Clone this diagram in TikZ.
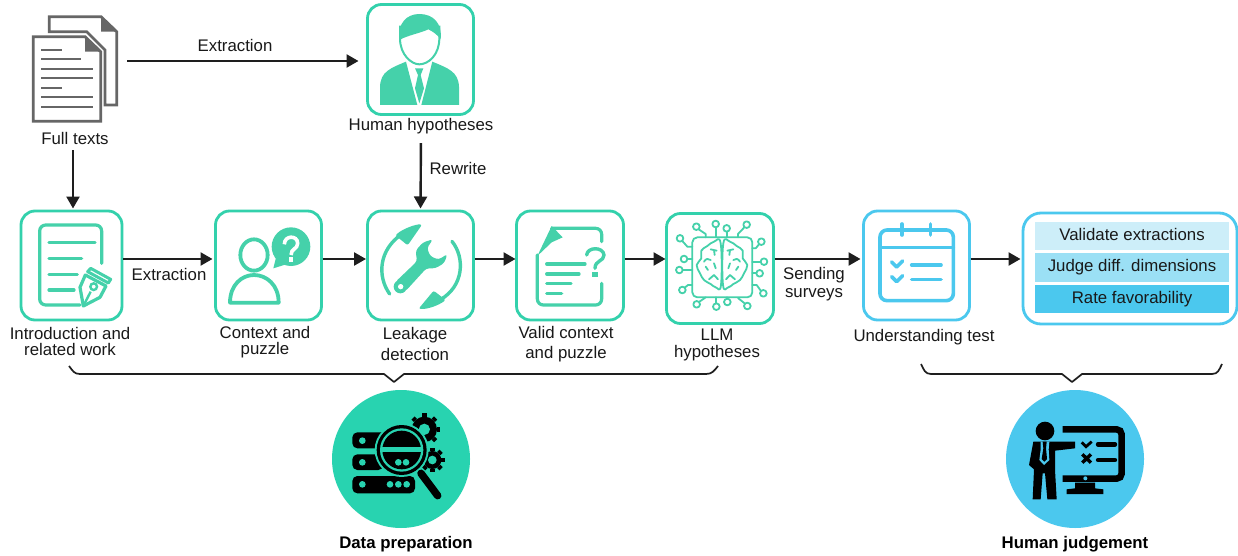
\documentclass[tikz,border=0pt]{standalone}
\usepackage{fontspec}
\setmainfont{Liberation Sans}
\usetikzlibrary{arrows.meta,calc}
\definecolor{teal1}{HTML}{33D1AC}
\definecolor{teal2}{HTML}{45D1AA}
\definecolor{tealc}{HTML}{28D3B0}
\definecolor{blue1}{HTML}{4BC8EE}
\definecolor{bar1}{HTML}{CDEEF9}
\definecolor{bar2}{HTML}{9BE0F5}
\definecolor{dark}{HTML}{1E1E1E}
\definecolor{docgray}{HTML}{666666}
\tikzset{
  z/.style 2 args={shift={(#1,#2)},x=0.33333pt,y=-0.33333pt},
  tealbox/.style={draw=teal1,line width=2.8pt,rounded corners=14pt,inner sep=0pt,outer sep=0pt,fill=white},
  bluebox/.style={draw=blue1,line width=2.8pt,rounded corners=14pt,inner sep=0pt,outer sep=0pt,fill=white},
  lab/.style={font=\fontsize{16.8}{16.5}\selectfont,align=center,inner sep=0pt,text=black!90},
  bar/.style={minimum width=194pt,minimum height=28pt,inner sep=0pt,text height=12pt,text depth=3.5pt,font=\fontsize{16.8}{16.5}\selectfont,text=black!90},
  head/.style={font=\fontsize{16.8}{16.5}\selectfont\bfseries,inner sep=0pt,text=black},
  arr/.style={-{Triangle[length=12pt,width=13pt]},line width=2.4pt,draw=dark},
  brace/.style={line width=1.7pt,draw=dark,line join=round},
  ti/.style={draw=teal2,line width=3.2pt,line cap=round,line join=round},
  thin/.style={draw=teal2,line width=1.8pt,line cap=round,line join=round},
  bi/.style={draw=blue1,line width=3.6pt,line cap=round,line join=round},
  gline/.style={draw=docgray,line width=2pt},
}
\begin{document}
\begin{tikzpicture}[x=1pt,y=-1pt]
\path[use as bounding box,fill=white] (0,0) rectangle (1238,556);
\coordinate (rowy) at (0,259);
\coordinate (topy) at (0,61);
\coordinate (colA) at (73,0);
% boxes
\node[tealbox,minimum width=101pt,minimum height=109pt] (intro) at (71.5,265.5) {};
\node[tealbox,minimum width=106pt,minimum height=109pt] (context) at (268.5,265.5) {};
\node[tealbox,minimum width=106pt,minimum height=109pt] (leak) at (420.5,265.5) {};
\node[tealbox,minimum width=107pt,minimum height=109pt] (valid) at (570,265.5) {};
\node[tealbox,minimum width=107pt,minimum height=110pt] (llm) at (720,268.5) {};
\node[bluebox,minimum width=106pt,minimum height=109pt] (under) at (916.5,265.5) {};
\node[bluebox,minimum width=214pt,minimum height=111pt,rounded corners=18pt] (panel) at (1130,268.5) {};
\node[tealbox,minimum width=106pt,minimum height=110pt] (human) at (420.5,59.5) {};
\node[minimum width=84pt,minimum height=106pt,inner sep=0pt] (docs) at (75,69) {};
% panel bars
\node[bar,fill=bar1] (b1) at (1132,236) {Validate extractions};
\node[bar,fill=bar2,minimum height=29pt] (b2) at (1132,267.5) {Judge diff. dimensions};
\node[bar,fill=blue1] (b3) at (1132,299) {Rate favorability};
% labels
\node[lab] (fulltexts) at (75,138) {Full texts};
\node[lab] (humanlab) at (421,126) {Human hypotheses};
\node[lab] (introlab) at (70,341.5) {Introduction and\\related work};
\node[lab] (contextlab) at (265,342) {Context and\\puzzle};
\node[lab] (leaklab) at (415,344) {Leakage\\[4pt]detection};
\node[lab] (validlab) at (566,344) {Valid context\\[4pt]and puzzle};
\node[lab] (llmlab) at (717,345) {LLM\\hypotheses};
\node[lab] (underlab) at (924,337) {Understanding test};
\node[lab] (ex1) at (235,45) {Extraction};
\node[lab] (ex2) at (169,274) {Extraction};
\node[lab] (rw) at (458,168) {Rewrite};
\node[lab] (send) at (814,284) {Sending\\[1.5pt]surveys};
\node[head] (dp) at (406,544) {Data preparation};
\node[head] (hj) at (1075,544) {Human judgement};
% connectors
\draw[arr,shorten <=10pt,shorten >=9pt] (docs.east |- topy) -- (human.west |- topy);
\draw[arr,shorten <=6pt,shorten >=2.5pt] (fulltexts.south -| colA) -- (intro.north -| colA);
\draw[arr,shorten <=9pt,shorten >=2.5pt] (humanlab.south) -- (leak.north);
\draw[arr,shorten <=1pt,shorten >=3pt] (intro.east |- rowy) -- (context.west |- rowy);
\draw[arr,shorten <=1pt,shorten >=1.5pt] (context.east |- rowy) -- (leak.west |- rowy);
\draw[arr,shorten <=1pt,shorten >=1pt] (leak.east |- rowy) -- (valid.west |- rowy);
\draw[arr,shorten <=1pt,shorten >=1pt] (valid.east |- rowy) -- (llm.west |- rowy);
\draw[arr,shorten <=1pt,shorten >=3pt] (llm.east |- rowy) -- (under.west |- rowy);
\draw[arr,shorten <=1pt,shorten >=2.5pt] (under.east |- rowy) -- (panel.west |- rowy);
% braces
\draw[brace] (69,366) .. controls (73,371) and (74,374) .. (80,374) -- (384,374) -- (394,382) -- (404,374) -- (706,374) .. controls (712,374) and (714,371) .. (718,366);
\draw[brace] (921,364) .. controls (924,370) and (925,374) .. (931,374) -- (1062,374) -- (1072,382) -- (1082,374) -- (1212,374) .. controls (1218,374) and (1219,370) .. (1222,364);
% circles
\fill[tealc] (401,459) circle (69);
\fill[blue1] (1075,459) circle (69);

% ---- documents icon
\begin{scope}[z={0}{0}]
\draw[draw=docgray,line width=2.8pt,line join=miter] (148,95) -- (148,50) -- (303,50) -- (350,95) -- (350,315) -- (315,315) -- (315,150) -- (260,95) -- cycle;
\fill[docgray] (303,50) -- (350,95) -- (303,95) -- cycle;
\draw[draw=docgray,line width=2.8pt,fill=white] (100,110) -- (255,110) -- (302,155) -- (302,364) -- (100,364) -- cycle;
\fill[docgray] (255,110) -- (300,155) -- (255,155) -- cycle;
\foreach \yy/\xx in {150/185,178/243,206/278,234/278,263/185,291/278,320/278}
  \draw[gline] (123,\yy) -- (\xx,\yy);
\end{scope}

% ---- human icon
\begin{scope}[z={0}{0}]
\fill[teal2] (1140,315) -- (1140,260) .. controls (1142,215) and (1170,205) .. (1218,185) -- (1252,315) -- cycle;
\fill[teal2] (1377,315) -- (1377,260) .. controls (1375,215) and (1345,205) .. (1297,185) -- (1264,315) -- cycle;
\fill[teal2] (1245,205) -- (1270,205) -- (1262,225) -- (1272,265) -- (1258,310) -- (1245,265) -- (1254,225) -- cycle;
\draw[draw=teal2,line width=2pt,fill=white] (1200,115) .. controls (1200,165) and (1235,193) .. (1258,193) .. controls (1285,193) and (1318,165) .. (1318,115) -- (1318,80) -- (1200,80) -- cycle;
\fill[teal2] (1198,120) .. controls (1192,70) and (1220,42) .. (1258,42) .. controls (1300,42) and (1327,70) .. (1322,117) .. controls (1312,105) and (1300,95) .. (1285,88) .. controls (1260,100) and (1225,105) .. (1198,120) -- cycle;
\end{scope}

% ---- intro icon
\begin{scope}[z={0}{200}]
\draw[ti,rounded corners=6pt] (240,315) -- (119,315) -- (119,75) -- (305,75) -- (305,190);
\foreach \yy/\xx in {128/285,176/245,224/232,270/222}
  \draw[ti] (147,\yy) -- (\xx,\yy);
\draw[draw=teal2,line width=3pt,line join=round] (272,205) -- (332,238) -- (325,249) -- (263,215) -- cycle;
\draw[draw=teal2,line width=3.2pt,fill=white,line join=round] (256,225) -- (318,258) -- (300,292) -- (250,318) -- (240,262) -- cycle;
\draw[draw=teal2,line width=2.4pt] (250,318) -- (272,275);
\draw[draw=teal2,line width=2.4pt,fill=white] (281,260) circle (10);
\end{scope}

% ---- context icon
\begin{scope}[z={0}{200}]
\draw[ti,line width=3.8pt] (762,165) ellipse (41 and 47);
\draw[ti,line width=3.8pt,line cap=butt,miter limit=5] (690,308) .. controls (690,255) and (725,225) .. (762,225) .. controls (800,225) and (836,255) .. (836,308) -- cycle;
\fill[teal2] (873,140) circle (58);
\fill[teal2] (830,165) -- (820,205) -- (868,190) -- cycle;
\draw[draw=white,line width=3.6pt] (853,133) .. controls (853,105) and (893,105) .. (893,130) .. controls (893,148) and (873,145) .. (873,165);
\fill[white] (866,172) rectangle (880,186);
\end{scope}

% ---- leakage icon
\begin{scope}[z={367}{208}]
\draw[ti,line width=3.4pt] (68,258) .. controls (30,205) and (35,125) .. (105,78);
\fill[teal2,rounded corners=2pt] (165,50) .. controls (150,48) and (110,60) .. (85,82) -- (122,112) -- cycle;
\draw[ti,line width=3.4pt] (255,100) .. controls (295,150) and (290,235) .. (220,275);
\fill[teal2,rounded corners=2pt] (155,302) .. controls (180,305) and (215,292) .. (236,276) -- (200,248) -- cycle;
\fill[teal2,rounded corners=3pt] (85,222) -- (150,160) -- (146,128) -- (168,103) -- (198,94) -- (180,120) -- (190,145) -- (215,155) -- (241,138) -- (232,165) -- (205,181) -- (178,181) -- (115,250) -- cycle;
\fill[teal2] (100,236) circle (20);
\fill[white] (101,236) circle (8);
\end{scope}

% ---- valid icon
\begin{scope}[z={480}{200}]
\fill[teal2] (215,78) -- (248,112) -- (215,127) -- (172,168) -- cycle;
\draw[ti,rounded corners=6pt] (215,85) -- (365,85) -- (365,125);
\draw[ti,rounded corners=6pt] (172,165) -- (172,315) -- (365,315) -- (365,250);
\foreach \yy/\xx in {192/315,222/297,251/273,281/245}
  \draw[ti] (200,\yy) -- (\xx,\yy);
\draw[ti,line width=3.4pt] (320,165) .. controls (322,140) and (370,140) .. (372,165) .. controls (372,185) and (345,180) .. (345,205);
\fill[teal2] (337,217) rectangle (354,232);
\end{scope}

% ---- LLM icon
\begin{scope}[z={664}{210}]
\draw[thin,rounded corners=5pt] (85,82) rectangle (265,262);
\foreach \a/\b in {97/50,155/42,188/55,248/44,48/85,60/147,46/180,55/240,292/95,300/155,287/190,298/250,98/283,157/290,190/276,250/288}
  \draw[thin] (\a,\b) circle (10);
\draw[thin] (104,58) -- (125,72) -- (125,82);
\draw[thin] (155,52) -- (155,82);
\draw[thin] (188,65) -- (188,82);
\draw[thin] (241,52) -- (222,72) -- (222,82);
\draw[thin] (55,93) -- (70,110) -- (85,110);
\draw[thin] (70,147) -- (85,147);
\draw[thin] (56,180) -- (85,180);
\draw[thin] (62,233) -- (72,225) -- (85,225);
\draw[thin] (285,103) -- (275,115) -- (265,115);
\draw[thin] (290,155) -- (265,155);
\draw[thin] (277,190) -- (265,190);
\draw[thin] (291,243) -- (278,225) -- (265,225);
\draw[thin] (105,276) -- (125,262);
\draw[thin] (157,280) -- (157,262);
\draw[thin] (190,266) -- (190,262);
\draw[thin] (243,281) -- (222,264);
% brain
\draw[thin] plot[smooth cycle,tension=0.7] coordinates {(170,100) (150,95) (130,108) (112,122) (112,145) (98,165) (108,190) (120,210) (140,222) (155,232) (171,225)};
\draw[thin] plot[smooth cycle,tension=0.7] coordinates {(178,100) (198,95) (218,108) (236,122) (236,145) (250,165) (240,190) (228,210) (208,222) (193,232) (177,225)};
\draw[thin] (140,118) -- (158,122) (150,120) -- (152,135);
\draw[thin] (208,118) -- (190,122) (198,120) -- (196,135);
\draw[thin] (120,155) .. controls (125,145) and (135,145) .. (140,150);
\draw[thin] (228,155) .. controls (223,145) and (213,145) .. (208,150);
\draw[thin] (125,170) -- (132,180);
\draw[thin] (223,170) -- (216,180);
\draw[thin] (150,160) -- (155,175);
\draw[thin] (198,160) -- (193,175);
\draw[thin] (135,208) -- (150,195) -- (162,208);
\draw[thin] (213,208) -- (198,195) -- (186,208);
\end{scope}

% ---- calendar icon
\begin{scope}[z={840}{200}]
\draw[bi,rounded corners=7pt] (120,90) rectangle (340,302);
\draw[bi] (120,142) -- (340,142);
\draw[bi] (186,72) -- (186,105);
\draw[bi] (272,72) -- (272,105);
\draw[bi] (155,186) -- (170,201) -- (188,183);
\draw[bi] (155,230) -- (170,245) -- (188,227);
\draw[bi] (215,195) -- (303,195);
\draw[bi] (215,239) -- (303,239);
\end{scope}

% ---- data preparation icon
\begin{scope}[z={345}{405}]
\fill[black,rounded corners=5pt] (22,82) rectangle (135,130);
\fill[black,rounded corners=5pt] (22,148) rectangle (115,195);
\fill[black,rounded corners=5pt] (22,213) rectangle (210,265);
\foreach \a/\b in {52/107,52/172,52/238,135/238,160/238,185/238}
  \fill[tealc] (\a,\b) circle (10);
\foreach \cx/\cy/\ro/\ri in {238/73/38/17,262/165/27/13}{
  \fill[black] (\cx,\cy) circle (\ro);
  \foreach \ang in {0,45,...,315}
    \draw[black,line width=4.5pt] ($(\cx,\cy)+(\ang:\ro)$) -- ($(\cx,\cy)+(\ang:\ro+10)$);
  \fill[tealc] (\cx,\cy) circle (\ri);
}
\fill[tealc] (170,135) circle (81);
\fill[black] (170,135) circle (75);
\fill[tealc] (170,135) circle (65);
\begin{scope}
\clip (170,135) circle (58);
\fill[black] (100,70) rectangle (240,125);
\fill[black] (100,140) rectangle (240,200);
\end{scope}
\fill[tealc] (160,172) circle (10);
\fill[tealc] (183,172) circle (10);
\draw[black,line width=7.5pt,line cap=round] (228,205) -- (278,272);
\end{scope}

% ---- human judgement icon
\begin{scope}[z={1020}{410}]
\fill[black] (75,63) circle (28);
\fill[black] (40,95) -- (165,95) -- (165,115) -- (105,122) -- (105,180) -- (110,268) -- (82,268) -- (75,190) -- (68,190) -- (62,268) -- (38,268) -- (42,178) -- (27,165) -- cycle;
\fill[blue1] (62,95) -- (88,95) -- (86,118) -- (88,150) -- (72,165) -- (58,150) -- (62,118) -- cycle;
\fill[black] (68,95) -- (80,95) -- (78,115) -- (81,147) -- (73,155) -- (65,147) -- (70,115) -- cycle;
\draw[black,line width=6.5pt,rounded corners=5pt] (128,58) -- (305,58) -- (305,206) -- (128,206);
\fill[black] (165,218) -- (225,218) -- (225,235) -- (250,238) -- (250,252) -- (140,252) -- (140,238) -- (165,235) -- cycle;
\fill[blue1] (196,205) circle (6);
\draw[black,line width=2.8pt] (185,97) -- (198,110) -- (215,95);
\draw[black,line width=3.4pt] (187,133) -- (213,158) (213,133) -- (187,158);
\draw[black,line width=4.4pt,line cap=round] (234,103) -- (285,103);
\draw[black,line width=4.4pt,line cap=round] (234,150) -- (285,150);
\end{scope}
\end{tikzpicture}
\end{document}
